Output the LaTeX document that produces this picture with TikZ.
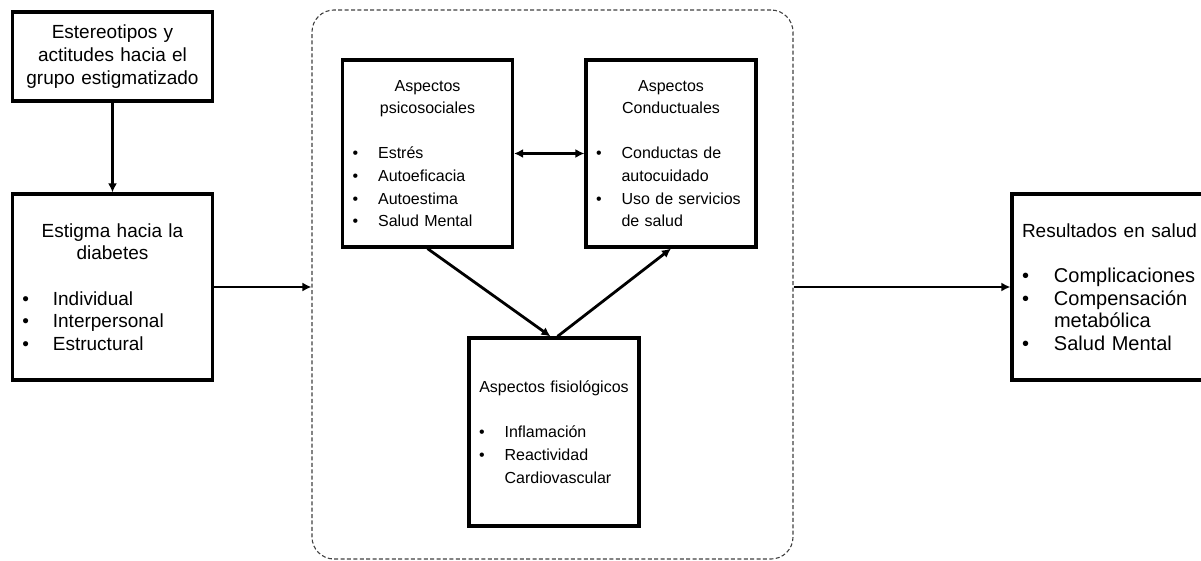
\documentclass[tikz,border=0pt]{standalone}
\usepackage{fontspec}
\setmainfont{Liberation Sans}
\usetikzlibrary{arrows.meta}

% bullet item and its continuation line
\newcommand{\itm}[1]{\par\noindent\makebox[1.6em][l]{\textbullet}#1}
\newcommand{\cnt}[1]{\par\noindent\hspace*{1.6em}#1}

\begin{document}
\begin{tikzpicture}[
  x={(0.5pt,0pt)},
  y={(0pt,-0.5pt)},
  line join=miter,
  >={Latex[length=4.5pt,width=4.5pt]},
  box/.style={draw=black,line width=1.6pt,rectangle,inner xsep=5pt,inner ysep=0pt,align=left},
  sidebox/.style={box,font=\fontsize{9.5}{11.3}\selectfont},
  midbox/.style={box,font=\fontsize{8}{11.3}\selectfont,minimum width=85pt,minimum height=93.5pt,text width=75pt},
  frame/.style={draw=black!75,line width=0.55pt,dash pattern=on 2pt off 1.2pt,rounded corners=11pt},
  arrow/.style={draw=black,line width=1.4pt,->}
]
  \useasboundingbox (0,0) rectangle (1201,561);

  % Left column.
  \node[sidebox,minimum width=100pt,minimum height=44.5pt,text width=90pt] (estereo) at (112.5,56.5)
    {{\centering Estereotipos y\\actitudes hacia el\\grupo estigmatizado\par}};
  \node[sidebox,minimum width=100pt,minimum height=93pt,text width=90pt] (estigma) at (112.5,287)
    {{\centering Estigma hacia la\\diabetes\par}\vspace{\baselineskip}%
     \itm{Individual}\itm{Interpersonal}\itm{Estructural}};

  % Mediating aspects inside the dashed frame.
  \node[frame,minimum width=240.5pt,minimum height=274.5pt] (marco) at (552.5,284.5) {};
  \node[midbox] (psico) at (427.5,153.5)
    {{\centering Aspectos\\psicosociales\par}\vspace{\baselineskip}%
     \itm{Estrés}\itm{Autoeficacia}\itm{Autoestima}\itm{Salud Mental}};
  \node[midbox] (conduct) at (671,153.5)
    {{\centering Aspectos\\Conductuales\par}\vspace{\baselineskip}%
     \itm{Conductas de}\cnt{autocuidado}\itm{Uso de servicios}\cnt{de salud}};
  \node[midbox,minimum height=94pt] (fisio) at (554,432)
    {{\centering Aspectos fisiológicos\par}\vspace{\baselineskip}%
     \itm{Inflamación}\itm{Reactividad}\cnt{Cardiovascular}};

  % Outcome box, cut at the right edge.
  \node[box,font=\fontsize{10}{11.3}\selectfont,minimum width=101.5pt,minimum height=93pt,text width=91.5pt] (result) at (1113.5,287)
    {\mbox{\fontsize{9.5}{11.3}\selectfont Resultados en salud}\par\vspace{\baselineskip}%
     \itm{Complicaciones}\itm{Compensación}\cnt{metabólica}\itm{Salud Mental}};

  % Connectors.
  \draw[arrow] (estereo) -- (estigma);
  \draw[arrow] (estigma.east) -- (estigma.east -| marco.west);
  \draw[arrow] (estigma.east -| marco.east) -- (result.west);
  \draw[arrow,<->] (psico) -- (conduct);
  \draw[arrow] (psico.south) -- ([xshift=-1.75pt]fisio.north);
  \draw[arrow] ([xshift=1.75pt]fisio.north) -- (conduct.south);
\end{tikzpicture}
\end{document}
